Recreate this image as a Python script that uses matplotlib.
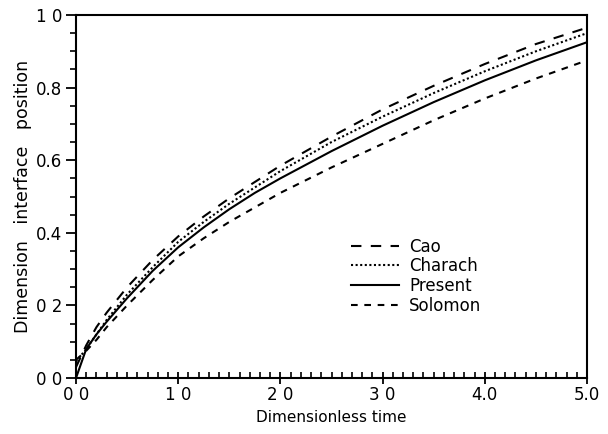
import numpy as np
from matplotlib import pyplot as plt
from matplotlib.ticker import MultipleLocator, FixedLocator

# 读图得到的数据
t = [0.0, 0.1, 0.2, 0.3, 0.5, 0.75, 1.0, 1.25, 1.5, 1.75, 2.0, 2.5, 3.0, 3.5, 4.0, 4.5, 5.0]
cao = [0.03, 0.09, 0.14, 0.18, 0.25, 0.325, 0.39, 0.445, 0.495, 0.54, 0.585, 0.665, 0.74, 0.805, 0.865, 0.92, 0.965]
charach = [0.045, 0.08, 0.12, 0.16, 0.23, 0.305, 0.375, 0.43, 0.48, 0.525, 0.57, 0.65, 0.72, 0.785, 0.845, 0.90, 0.95]
present = [0.0, 0.08, 0.12, 0.155, 0.22, 0.295, 0.36, 0.415, 0.465, 0.51, 0.55, 0.625, 0.695, 0.76, 0.82, 0.875, 0.925]
solomon = [0.05, 0.075, 0.105, 0.14, 0.20, 0.27, 0.335, 0.385, 0.43, 0.47, 0.51, 0.58, 0.645, 0.71, 0.77, 0.825, 0.875]

x_ticks = [0, 1, 2, 3, 4, 5]
x_labels = ['0 0', '1 0', '2 0', '3 0', '4.0', '5.0']
y_ticks = [0.0, 0.2, 0.4, 0.6, 0.8, 1.0]
y_labels = ['0 0', '0 2', '0.4', '0.6', '0.8', '1 0']

plt.rcParams['font.family'] = ['DejaVu Sans']

fig = plt.figure(figsize=(6.08, 4.34), dpi=100)
ax = fig.add_axes([76 / 608, 56 / 434, 511 / 608, 363 / 434])

lw = 1.5
ax.plot(t, cao, color='black', lw=lw, dashes=(5, 4.5), label='Cao')
ax.plot(t, charach, color='black', lw=lw, dashes=(1, 1.2), label='Charach')
ax.plot(t, present, color='black', lw=lw, linestyle='-', label='Present')
ax.plot(t, solomon, color='black', lw=lw, dashes=(3.2, 3.2), label='Solomon')

ax.set_xlim(0, 5)
ax.set_ylim(0, 1)

ax.xaxis.set_major_locator(FixedLocator(x_ticks))
ax.set_xticklabels(x_labels)
ax.xaxis.set_minor_locator(MultipleLocator(0.1))
ax.yaxis.set_major_locator(FixedLocator(y_ticks))
ax.set_yticklabels(y_labels)
ax.yaxis.set_minor_locator(MultipleLocator(0.05))

ax.tick_params(axis='x', which='major', direction='inout', length=8, width=1.3, labelsize=12, pad=2)
ax.tick_params(axis='x', which='minor', direction='in', length=4, width=1.2)
ax.tick_params(axis='y', which='major', direction='out', length=7, width=1.3, labelsize=12, pad=3)
ax.tick_params(axis='y', which='minor', direction='out', length=4, width=1.2)

for sp in ax.spines.values():
    sp.set_linewidth(1.5)

ax.set_xlabel('Dimensionless time', fontsize=11, labelpad=4)
ax.set_ylabel('Dimension   interface   position', fontsize=12.5, labelpad=3)

leg = ax.legend(loc='upper left', bbox_to_anchor=(0.525, 0.405), frameon=False, fontsize=12,
                handlelength=2.9, handletextpad=0.6, labelspacing=0.1, borderaxespad=0)

fig.savefig('out.png', dpi=100)
